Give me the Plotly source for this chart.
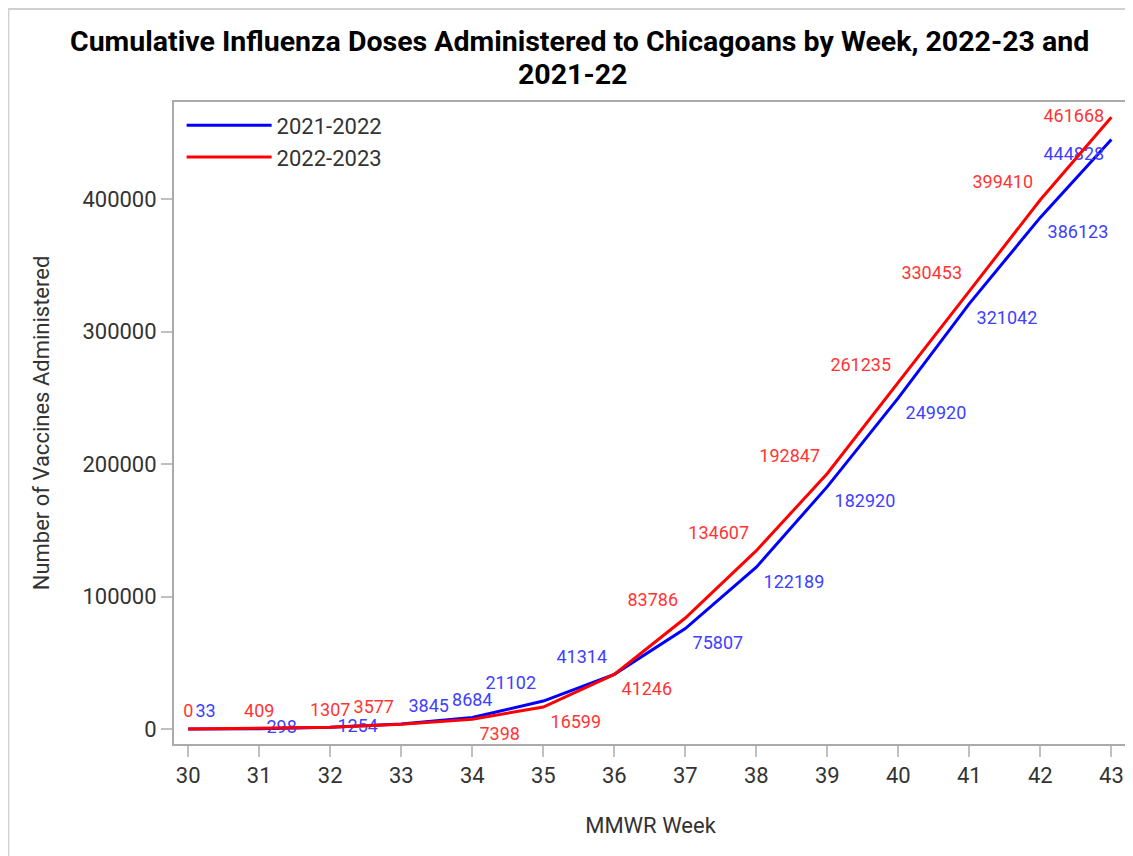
import plotly.graph_objects as go

weeks = [30, 31, 32, 33, 34, 35, 36, 37, 38, 39, 40, 41, 42, 43]
doses_2021_22 = [33, 298, 1254, 3845, 8684, 21102, 41314, 75807, 122189, 182920, 249920, 321042, 386123, 444828]
doses_2022_23 = [0, 409, 1307, 3577, 7398, 16599, 41246, 83786, 134607, 192847, 261235, 330453, 399410, 461668]
y_ticks = [0, 100000, 200000, 300000, 400000]

pos_2021_22 = ["top right", "middle right", "middle right", "top right", "top center", "top left",
               "top left", "bottom right", "bottom right", "bottom right", "bottom right",
               "bottom right", "bottom right", "bottom left"]
pos_2022_23 = ["top center", "top center", "top center", "top left", "bottom right", "bottom right",
               "bottom right", "top left", "top left", "top left", "top left", "top left",
               "top left", "middle left"]

font = "Roboto, 'Open Sans', sans-serif"
invisible_marker = dict(size=10, opacity=0, color="rgba(0,0,0,0)", line=dict(width=0))

fig = go.Figure()
fig.add_trace(go.Scatter(
    x=weeks, y=doses_2021_22, name="2021-2022", mode="lines+markers+text",
    line=dict(color="#0000ff", width=3),
    marker=invisible_marker,
    text=[str(v) for v in doses_2021_22], textposition=pos_2021_22,
    textfont=dict(family=font, size=18, color="#4040ff"),
))
fig.add_trace(go.Scatter(
    x=weeks, y=doses_2022_23, name="2022-2023", mode="lines+markers+text",
    line=dict(color="#ff0000", width=3),
    marker=invisible_marker,
    text=[str(v) for v in doses_2022_23], textposition=pos_2022_23,
    textfont=dict(family=font, size=18, color="#ff3535"),
))

fig.update_layout(
    width=1125, height=848,
    margin=dict(l=166, r=4, t=94, b=112),
    paper_bgcolor="white", plot_bgcolor="white",
    font=dict(family=font, size=22, color="#333333"),
    legend=dict(x=0.008, y=0.996, xanchor="left", yanchor="top",
                bgcolor="rgba(0,0,0,0)", font=dict(size=22, color="#333333"),
                itemwidth=85, tracegroupgap=0),
    xaxis=dict(
        range=[29.8, 43.22], tickmode="array", tickvals=weeks,
        ticks="outside", ticklen=11, tickcolor="#c0c0c0", tickwidth=2,
        showline=True, linecolor="#aaaaaa", linewidth=2, mirror=True,
        showgrid=False, zeroline=False,
        tickfont=dict(size=22, color="#333333"),
        title=dict(text="MMWR Week", font=dict(size=22, color="#333333"), standoff=30),
    ),
    yaxis=dict(
        range=[-11300, 473200], tickmode="array", tickvals=y_ticks,
        ticktext=[str(v) for v in y_ticks],
        ticks="outside", ticklen=11, tickcolor="#c0c0c0", tickwidth=2,
        showline=True, linecolor="#aaaaaa", linewidth=2, mirror=True,
        showgrid=False, zeroline=False,
        tickfont=dict(size=22, color="#333333"),
        title=dict(text="Number of Vaccines Administered", font=dict(size=22, color="#333333"), standoff=27),
    ),
    annotations=[
        dict(text="<b>Cumulative Influenza Doses Administered to Chicagoans by Week, 2022-23 and</b>",
             xref="paper", yref="paper", x=0.426, y=1.0935, xanchor="center", yanchor="middle",
             showarrow=False, font=dict(family=font, size=28.5, color="black")),
        dict(text="<b>2021-22</b>",
             xref="paper", yref="paper", x=0.418, y=1.0436, xanchor="center", yanchor="middle",
             showarrow=False, font=dict(family=font, size=28.5, color="black")),
    ],
    shapes=[dict(type="rect", xref="paper", yref="paper",
                 x0=-0.1738, x1=1.03, y0=-0.25, y1=1.1449,
                 line=dict(color="#d0d0d0", width=2), fillcolor="rgba(0,0,0,0)", layer="below")],
)

fig.write_html("out.html")
